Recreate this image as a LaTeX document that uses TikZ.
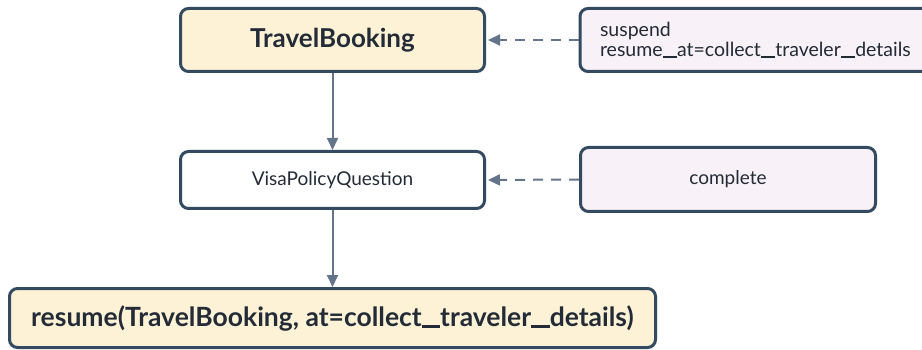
\documentclass[tikz,border=0pt]{standalone}
\usepackage{fontspec}
\setmainfont{Lato}
\usetikzlibrary{arrows.meta}
\definecolor{edgeC}{HTML}{334A60}
\definecolor{arrC}{HTML}{64748B}
\definecolor{yelF}{HTML}{FDF2D6}
\definecolor{pinkF}{HTML}{F8F1F8}
\definecolor{txtC}{HTML}{222B36}
\newcommand{\us}{\rule[-0.07em]{0.7em}{0.11em}}
\newcommand{\usl}{\rule[-0.06em]{0.74em}{0.08em}}
\tikzset{
  box/.style={draw=edgeC, line width=3pt, rounded corners=8pt, inner sep=0pt, text=txtC, align=center},
  mainbox/.style={box, fill=yelF, font=\fontsize{26}{30}\selectfont\bfseries},
  plainbox/.style={box, fill=white, font=\fontsize{19}{22}\selectfont},
  notebox/.style={box, fill=pinkF, font=\fontsize{19}{19.5}\selectfont},
  flow/.style={arrC, line width=2pt, -{Triangle[length=12pt,width=11pt]}},
  note/.style={arrC, line width=2pt, dash pattern=on 10pt off 8pt, -{Triangle[length=12pt,width=11pt]}}
}
\begin{document}
\begin{tikzpicture}[x=1pt,y=-1pt]
\useasboundingbox (0,0) rectangle (922,350);
\node[mainbox, minimum width=304pt, minimum height=63pt] (tb) at (332.5,40) {TravelBooking};
\node[plainbox, minimum width=304pt, minimum height=57pt] (vpq) at (332.5,180) {VisaPolicyQuestion};
\node[mainbox, font=\fontsize{26.5}{30}\selectfont\bfseries, minimum width=646pt, minimum height=59pt] (res) at (332.5,318) {resume(TravelBooking, at=collect\us traveler\us details)};
\node[notebox, font=\fontsize{19.5}{19.5}\selectfont, minimum width=362pt, minimum height=63pt, align=left, text width=322pt, inner xsep=20pt] (sus) at (761,40) {suspend\\resume\usl at=collect\usl traveler\usl details};
\node[notebox, minimum width=295pt, minimum height=64pt] (comp) at (728,179.5) {complete};
\draw[flow] (tb) -- (vpq);
\draw[flow] (vpq) -- (res);
\draw[note] (sus.west) -- ([xshift=2pt]tb.east);
\draw[note] (comp.west) -- ([xshift=2pt]vpq.east);
\end{tikzpicture}
\end{document}
